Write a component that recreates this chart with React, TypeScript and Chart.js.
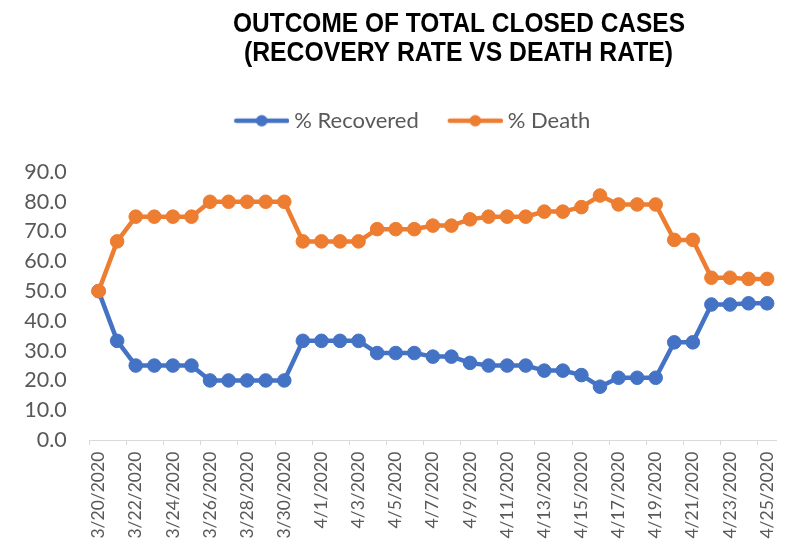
import { useEffect, useRef } from 'react';
import { Chart, registerables } from 'chart.js';

Chart.register(...registerables);

const dates = [
  '3/20/2020', '3/21/2020', '3/22/2020', '3/23/2020', '3/24/2020', '3/25/2020', '3/26/2020',
  '3/27/2020', '3/28/2020', '3/29/2020', '3/30/2020', '3/31/2020', '4/1/2020', '4/2/2020',
  '4/3/2020', '4/4/2020', '4/5/2020', '4/6/2020', '4/7/2020', '4/8/2020', '4/9/2020',
  '4/10/2020', '4/11/2020', '4/12/2020', '4/13/2020', '4/14/2020', '4/15/2020', '4/16/2020',
  '4/17/2020', '4/18/2020', '4/19/2020', '4/20/2020', '4/21/2020', '4/22/2020', '4/23/2020',
  '4/24/2020', '4/25/2020',
];

const recovered = [
  50, 33.3, 25, 25, 25, 25, 20, 20, 20, 20, 20, 33.3, 33.3, 33.3, 33.3, 29.2, 29.2, 29.2,
  28.0, 28.0, 25.9, 25, 25, 25, 23.3, 23.3, 21.8, 17.9, 20.9, 20.9, 20.9, 32.8, 32.8,
  45.5, 45.5, 45.9, 45.9,
];

const death = [
  50, 66.7, 75, 75, 75, 75, 80, 80, 80, 80, 80, 66.7, 66.7, 66.7, 66.7, 70.8, 70.8, 70.8,
  72.0, 72.0, 74.1, 75, 75, 75, 76.7, 76.7, 78.2, 82.1, 79.1, 79.1, 79.1, 67.2, 67.2,
  54.5, 54.5, 54.1, 54.1,
];

const seriesNames = ['% Recovered', '% Death'];
const titleLines = ['OUTCOME OF TOTAL CLOSED CASES', '(RECOVERY RATE VS DEATH RATE)'];

const BLUE = '#4472C4';
const ORANGE = '#ED7D31';
const GREY_TEXT = '#595959';
const AXIS_GREY = '#D9D9D9';
const FONT = 'Lato, "Open Sans", sans-serif';

function makeLegendIcon(color: string): HTMLCanvasElement {
  const c = document.createElement('canvas');
  c.width = 80;
  c.height = 14;
  const g = c.getContext('2d')!;
  g.strokeStyle = color;
  g.lineWidth = 4.5;
  g.lineCap = 'round';
  g.beginPath();
  g.moveTo(27, 7);
  g.lineTo(78, 7);
  g.stroke();
  g.fillStyle = color;
  g.beginPath();
  g.arc(52.5, 7, 5.8, 0, Math.PI * 2);
  g.fill();
  return c;
}

const titlePlugin = {
  id: 'customTitle',
  afterDraw(chart: any) {
    const ctx = chart.ctx;
    const specs = [
      { text: titleLines[0], cx: 459, cy: 24.3, w: 452 },
      { text: titleLines[1], cx: 458.5, cy: 53.2, w: 429 },
    ];
    ctx.save();
    ctx.font = 'bold 27px "Liberation Sans", Arial, sans-serif';
    ctx.fillStyle = '#000000';
    ctx.textAlign = 'center';
    ctx.textBaseline = 'middle';
    for (const s of specs) {
      const m = ctx.measureText(s.text).width;
      const k = s.w / m;
      ctx.save();
      ctx.translate(s.cx, s.cy);
      ctx.scale(k, 1);
      ctx.fillText(s.text, 0, 0);
      ctx.restore();
    }
    ctx.restore();
  },
};

export default function App() {
  const ref = useRef<HTMLCanvasElement | null>(null);

  useEffect(() => {
    document.body.style.margin = '0';
    if (!ref.current) return;
    const icons = [makeLegendIcon(BLUE), makeLegendIcon(ORANGE)];
    const chart = new Chart(ref.current, {
      type: 'line',
      data: {
        labels: dates,
        datasets: [
          {
            label: seriesNames[0],
            data: recovered,
            borderColor: BLUE,
            backgroundColor: BLUE,
            pointBackgroundColor: BLUE,
            pointBorderColor: BLUE,
            borderWidth: 4.5,
            pointRadius: 6.8,
            pointBorderWidth: 1,
            tension: 0,
            order: 1,
          },
          {
            label: seriesNames[1],
            data: death,
            borderColor: ORANGE,
            backgroundColor: ORANGE,
            pointBackgroundColor: ORANGE,
            pointBorderColor: ORANGE,
            borderWidth: 4.5,
            pointRadius: 6.8,
            pointBorderWidth: 1,
            tension: 0,
            order: 0,
          },
        ],
      },
      options: {
        responsive: false,
        animation: false,
        layout: { padding: { top: 99.7, left: 23.7, right: 13.3, bottom: 0 } },
        plugins: {
          tooltip: { enabled: false },
          title: { display: false },
          subtitle: {
            display: true,
            text: '',
            weight: 500,
            padding: 0,
            font: { size: 1, lineHeight: 30.3 },
          },
          legend: {
            display: true,
            position: 'top',
            labels: {
              usePointStyle: true,
              pointStyleWidth: 68,
              padding: 10,
              color: GREY_TEXT,
              font: { family: FONT, size: 22 },
              sort: (a: any, b: any) => a.datasetIndex - b.datasetIndex,
              generateLabels: (chart: any) => {
                const items = Chart.defaults.plugins.legend.labels.generateLabels(chart);
                return items.map((it: any) => ({
                  ...it,
                  pointStyle: icons[it.datasetIndex],
                  fontColor: GREY_TEXT,
                }));
              },
            },
          },
        },
        scales: {
          x: {
            type: 'category',
            offset: true,
            grid: {
              offset: true,
              drawOnChartArea: false,
              drawTicks: true,
              tickLength: 5,
              lineWidth: 1,
              color: (c: any) => (c.index % 2 === 0 ? AXIS_GREY : 'rgba(0,0,0,0)'),
            },
            border: { display: true, color: AXIS_GREY, width: 1 },
            ticks: {
              autoSkip: false,
              maxRotation: 90,
              minRotation: 90,
              padding: 6.7,
              color: GREY_TEXT,
              font: { family: FONT, size: 17.5 },
              callback: function (this: any, v: any, i: number) {
                return i % 2 === 0 ? this.getLabelForValue(v) : '';
              },
            },
            afterFit: (scale: any) => {
              scale.height = 101;
            },
          },
          y: {
            min: 0,
            max: 90,
            grid: { display: false, drawTicks: false, tickLength: 0 },
            border: { display: false },
            ticks: {
              stepSize: 10,
              padding: 22.6,
              color: GREY_TEXT,
              font: { family: FONT, size: 21.5 },
              callback: (v: any) => Number(v).toFixed(1),
            },
            afterFit: (scale: any) => {
              scale.width = 65.6;
            },
          },
        },
      },
      plugins: [titlePlugin],
    });
    return () => chart.destroy();
  }, []);

  return (
    <div style={{ width: 795, height: 541, background: '#ffffff' }}>
      <canvas ref={ref} width={795} height={541} style={{ display: 'block' }} />
    </div>
  );
}
